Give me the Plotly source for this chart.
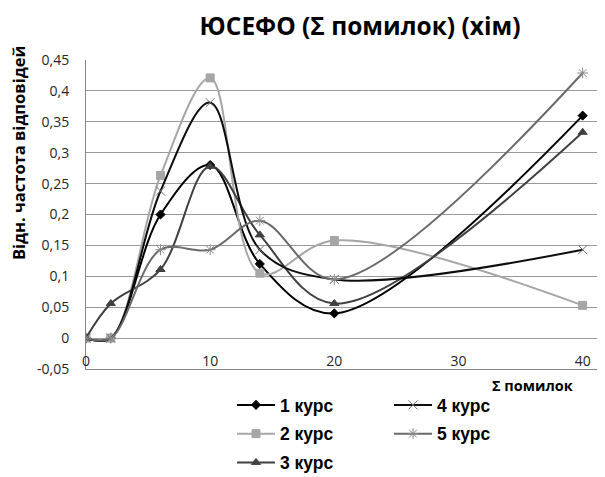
import plotly.graph_objects as go

# Data
x_vals = [0, 2, 6, 10, 14, 20, 40]
series_names = ["1 курс", "2 курс", "3 курс", "4 курс", "5 курс"]
kurs1 = [0, 0, 0.2, 0.28, 0.12, 0.04, 0.36]
kurs2 = [0, 0, 0.263, 0.421, 0.105, 0.158, 0.053]
kurs3 = [0, 0.056, 0.111, 0.278, 0.167, 0.056, 0.333]
kurs4 = [0, 0, 0.238, 0.381, 0.143, 0.095, 0.143]
kurs5 = [0, 0, 0.143, 0.143, 0.19, 0.095, 0.429]
y_tickvals = [-0.05, 0, 0.05, 0.1, 0.15, 0.2, 0.25, 0.3, 0.35, 0.4, 0.45]
y_ticktext = ["-0,05", "0", "0,05", "0,1", "0,15", "0,2", "0,25", "0,3", "0,35", "0,4", "0,45"]
x_tickvals = [0, 10, 20, 30, 40]
x_ticktext = ["0", "10", "20", "30", "40"]

title_text = "ЮСЕФО (Σ помилок) (хім)"
y_title = "Відн. частота відповідей"
x_title = "Σ помилок"

styles = [
    dict(color="#000000", mcolor="#000000", symbol="diamond", size=7, legend="legend"),
    dict(color="#a6a6a6", mcolor="#a6a6a6", symbol="square", size=8, legend="legend"),
    dict(color="#404040", mcolor="#404040", symbol="triangle-up", size=8, legend="legend"),
    dict(color="#0d0d0d", mcolor="#6e6e6e", symbol="x-thin-open", size=9, legend="legend2"),
    dict(color="#6a6a6a", mcolor="#8a8a8a", symbol="asterisk-open", size=9, legend="legend2"),
]
all_series = [kurs1, kurs2, kurs3, kurs4, kurs5]

fig = go.Figure()
for name, ys, st in zip(series_names, all_series, styles):
    fig.add_trace(go.Scatter(
        x=x_vals, y=ys, name=name, mode="lines+markers",
        line=dict(color=st["color"], width=2, shape="spline", smoothing=1),
        marker=dict(color=st["mcolor"], symbol=st["symbol"], size=st["size"],
                    line=dict(color=st["mcolor"], width=1)),
        legend=st["legend"], legendgroup=name,
    ))

# The page body adds an 8px offset, so the figure is drawn 8px smaller.
W, H = 597, 469
OFF = 8
tick_font = dict(family="Open Sans", size=14, color="#262626")
legend_font = dict(family="Liberation Sans", size=17.5, color="#000000", weight="bold")

L, T, B = 86 - OFF, 60 - OFF, 369 - OFF
PW, PH = W - L, B - T

def px_x(p):  # page pixel -> paper x
    return (p - OFF - L) / PW

def px_y(p):  # page pixel -> paper y
    return (B - (p - OFF)) / PH

fig.update_layout(
    width=W, height=H,
    margin=dict(l=L, r=0, t=T, b=H - B, autoexpand=False),
    paper_bgcolor="white", plot_bgcolor="white",
    showlegend=True,
    title=dict(text=title_text, x=(360 - OFF) / W, xref="container", xanchor="center",
               y=1 - (26 - OFF) / H, yref="container", yanchor="middle",
               font=dict(family="Open Sans", size=24.5, color="#000000", weight="bold")),
    xaxis=dict(range=[0, 41.8], tickvals=x_tickvals, ticktext=x_ticktext,
               showgrid=False, zeroline=False, showline=True, linecolor="#868686", linewidth=1,
               ticklabelposition="inside", ticklabeloverflow="allow", ticks="",
               automargin=False, tickfont=tick_font),
    yaxis=dict(range=[-0.05, 0.45], tickvals=y_tickvals, ticktext=y_ticktext,
               showgrid=True, gridcolor="#999999", gridwidth=1, zeroline=False,
               showline=True, linecolor="#868686", linewidth=1, ticks="",
               ticklabelstandoff=13, automargin=False, tickfont=tick_font),
    legend=dict(x=px_x(232), y=px_y(387), xanchor="left", yanchor="top",
                orientation="v", tracegroupgap=3, bgcolor="rgba(0,0,0,0)",
                itemwidth=38, font=legend_font),
    legend2=dict(x=px_x(389), y=px_y(387), xanchor="left", yanchor="top",
                 orientation="v", tracegroupgap=3, bgcolor="rgba(0,0,0,0)",
                 itemwidth=38, font=legend_font),
    annotations=[
        dict(text=y_title, xref="paper", yref="paper", x=px_x(18), y=px_y(153),
             textangle=-90, showarrow=False, xanchor="center", yanchor="middle",
             font=dict(family="Open Sans", size=16.5, color="#000000", weight="bold")),
        dict(text=x_title, xref="paper", yref="paper", x=px_x(532), y=px_y(386),
             showarrow=False, xanchor="center", yanchor="middle",
             font=dict(family="Open Sans", size=14.5, color="#000000", weight="bold")),
    ],
)

fig.write_html("out.html")
